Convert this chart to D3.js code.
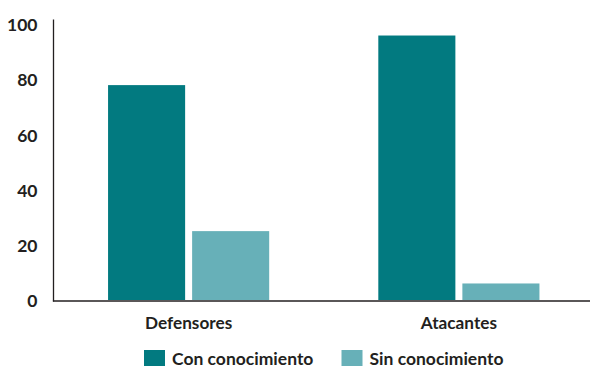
<!DOCTYPE html>
<html>
<head>
<meta charset="utf-8">
<script src="https://cdn.jsdelivr.net/npm/d3@7"></script>
<style>
  html, body { margin: 0; padding: 0; background: #fff; }
  svg text { font-family: Lato, "Open Sans", sans-serif; font-weight: 700; fill: #231f20; }
</style>
</head>
<body>
<svg id="chart" width="590" height="367"></svg>
<script>
const categories = ["Defensores", "Atacantes"];
const seriesNames = ["Con conocimiento", "Sin conocimiento"];
const conConocimiento = [78, 96];
const sinConocimiento = [25, 6];
const yTicks = [0, 20, 40, 60, 80, 100];
const colors = ["#027a80", "#67b0b8"];

const seriesValues = [conConocimiento, sinConocimiento];
const data = categories.map((c, i) => ({
  category: c,
  values: seriesNames.map((s, j) => ({ key: s, value: seriesValues[j][i] }))
}));

const svg = d3.select("#chart");
const mLeft = 53.5, mRight = 594, mBottom = 300, mTop = 24.5;

const x0 = d3.scaleBand().domain(categories).range([mLeft, mRight]).padding(0);
const x1 = d3.scaleBand().domain(seriesNames).range([0, x0.bandwidth()])
  .paddingInner(0.0833).paddingOuter(0.649);
const y = d3.scaleLinear().domain([0, 100]).range([mBottom, mTop]);
const color = d3.scaleOrdinal().domain(seriesNames).range(colors);

// bars
svg.append("g").selectAll("g").data(data).join("g")
  .attr("transform", d => `translate(${x0(d.category)},0)`)
  .selectAll("rect").data(d => d.values).join("rect")
  .attr("x", d => x1(d.key))
  .attr("width", x1.bandwidth())
  .attr("y", d => y(d.value))
  .attr("height", d => y(0) - y(d.value))
  .attr("fill", d => color(d.key));

// y axis
const yAxis = svg.append("g").attr("transform", `translate(${mLeft},0)`)
  .call(d3.axisLeft(y).tickValues(yTicks).tickSize(0).tickPadding(16));
yAxis.select(".domain").remove();
yAxis.attr("font-family", null).attr("font-size", null);
yAxis.selectAll("text").attr("font-size", 17.5).attr("dy", "0.36em");
svg.append("line").attr("x1", mLeft).attr("x2", mLeft)
  .attr("y1", y(0) + 1.5).attr("y2", y(100) - 5)
  .attr("stroke", "#231f20").attr("stroke-width", 1.3);

// x axis
const xAxis = svg.append("g").attr("transform", `translate(0,${y(0) + 1})`)
  .call(d3.axisBottom(x0).tickSize(0).tickPadding(16));
xAxis.select(".domain").remove();
xAxis.attr("font-family", null).attr("font-size", null);
xAxis.selectAll("text").attr("font-size", 17.2).attr("dy", "0.71em");
svg.append("line").attr("x1", mLeft - 0.6).attr("x2", 590)
  .attr("y1", y(0) + 1).attr("y2", y(0) + 1)
  .attr("stroke", "#231f20").attr("stroke-width", 1.3);

// legend
const legendX = [144, 341.5];
const legend = svg.append("g").selectAll("g").data(seriesNames).join("g")
  .attr("transform", (d, i) => `translate(${legendX[i]},350)`);
legend.append("rect").attr("width", 21).attr("height", 16).attr("fill", d => color(d));
legend.append("text").attr("x", 28).attr("y", 14.5).attr("font-size", 17.5).text(d => d);
</script>
</body>
</html>
